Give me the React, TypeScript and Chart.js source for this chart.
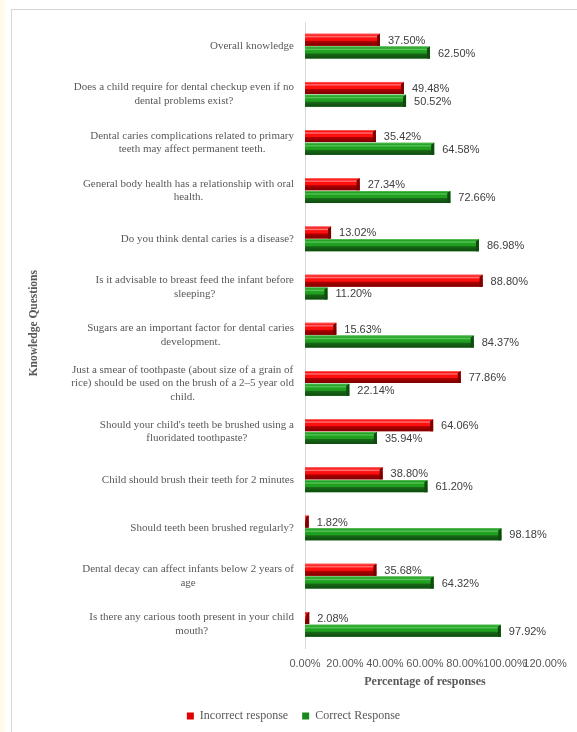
import React, { useEffect, useRef } from "react";
import { Chart, registerables } from "chart.js";

Chart.register(...registerables);

const categories: string[][] = [
  ["Overall knowledge"],
  ["Does a child require for dental checkup even if no", "dental problems exist?"],
  ["Dental caries complications related to primary", "teeth may affect permanent teeth."],
  ["General body health has a relationship with oral", "health."],
  ["Do you think dental caries is a disease?"],
  ["Is it advisable to breast feed the infant before", "sleeping?"],
  ["Sugars are an important factor for dental caries", "development."],
  ["Just a smear of toothpaste (about size of a grain of", "rice) should be used on the brush of a 2\u20135 year old", "child."],
  ["Should your child's teeth be brushed using a", "fluoridated toothpaste?"],
  ["Child should brush their teeth for 2 minutes"],
  ["Should teeth been brushed regularly?"],
  ["Dental decay can affect infants below 2 years of", "age"],
  ["Is there any carious tooth present in your child", "mouth?"],
];

const incorrect: number[] = [37.5, 49.48, 35.42, 27.34, 13.02, 88.8, 15.63, 77.86, 64.06, 38.8, 1.82, 35.68, 2.08];
const correct: number[] = [62.5, 50.52, 64.58, 72.66, 86.98, 11.2, 84.37, 22.14, 35.94, 61.2, 98.18, 64.32, 97.92];

const seriesNames = ["Incorrect response", "Correct Response"];
const xMin = 0;
const xMax = 120;
const xStep = 20;
const yTitle = "Knowledge Questions";

const SERIF = "'Liberation Serif', 'Times New Roman', serif";
const SANS = "'Liberation Sans', Arial, sans-serif";
const TEXT = "#595959";

const palettes = [
  { light: "#ff7a7a", main: "#ff1010", dark: "#b00000", darker: "#7a0000" },
  { light: "#5cc45c", main: "#1fa01f", dark: "#176817", darker: "#0f4a0f" },
];

const bevelPlugin = {
  id: "bevel",
  afterDatasetsDraw(chart: any) {
    const ctx = chart.ctx as CanvasRenderingContext2D;
    chart.data.datasets.forEach((_ds: any, di: number) => {
      const meta = chart.getDatasetMeta(di);
      if (meta.hidden) return;
      const p = palettes[di];
      meta.data.forEach((el: any) => {
        const { x, y, base, height } = el.getProps(["x", "y", "base", "height"], true);
        const top = y - height / 2;
        const left = Math.min(base, x);
        const w = Math.abs(x - base);
        if (w <= 0) return;
        ctx.save();
        const g = ctx.createLinearGradient(0, top, 0, top + height);
        g.addColorStop(0, p.light);
        g.addColorStop(0.12, p.main);
        g.addColorStop(0.25, p.light);
        g.addColorStop(0.35, p.main);
        g.addColorStop(0.55, p.main);
        g.addColorStop(0.62, p.dark);
        g.addColorStop(1, p.darker);
        ctx.fillStyle = g;
        ctx.fillRect(left, top, w, height);
        const bw = Math.min(3, w);
        ctx.fillStyle = p.darker;
        ctx.beginPath();
        ctx.moveTo(left + w - bw, top + 2);
        ctx.lineTo(left + w, top);
        ctx.lineTo(left + w, top + height);
        ctx.lineTo(left + w - bw, top + height);
        ctx.closePath();
        ctx.fill();
        ctx.restore();
      });
    });
  },
};

const labelsPlugin = {
  id: "valueLabels",
  afterDatasetsDraw(chart: any) {
    const ctx = chart.ctx as CanvasRenderingContext2D;
    ctx.save();
    ctx.font = `11px ${SANS}`;
    ctx.fillStyle = "#404040";
    ctx.textAlign = "left";
    ctx.textBaseline = "middle";
    chart.data.datasets.forEach((ds: any, di: number) => {
      const meta = chart.getDatasetMeta(di);
      meta.data.forEach((el: any, i: number) => {
        const { x, y } = el.getProps(["x", "y"], true);
        ctx.fillText(`${Number(ds.data[i]).toFixed(2)}%`, x + 8, y + 1);
      });
    });
    ctx.restore();
  },
};

const catLabelsPlugin = {
  id: "catLabels",
  afterLayout(chart: any) {
    if (chart.legend) {
      chart.legend.left += 12;
      chart.legend.right += 12;
    }
  },
  afterDraw(chart: any) {
    const ctx = chart.ctx as CanvasRenderingContext2D;
    const yScale = chart.scales.y;
    const area = chart.chartArea;
    const right = area.left - 11;
    const lh = 13.5;
    ctx.save();
    ctx.font = `11px ${SERIF}`;
    ctx.fillStyle = TEXT;
    ctx.textAlign = "center";
    ctx.textBaseline = "middle";
    categories.forEach((lines, i) => {
      const cy = yScale.getPixelForValue(i);
      const maxW = Math.max(...lines.map((l) => ctx.measureText(l).width));
      const cx = right - maxW / 2;
      const y0 = cy - ((lines.length - 1) * lh) / 2;
      lines.forEach((l, k) => ctx.fillText(l, cx, y0 + k * lh));
    });
    ctx.font = `bold 11.5px ${SERIF}`;
    ctx.translate(yScale.left + 16, (area.top + area.bottom) / 2 - 12);
    ctx.rotate(-Math.PI / 2);
    ctx.fillText(yTitle, 0, 0);
    ctx.restore();
  },
};

export default function App() {
  const ref = useRef<HTMLCanvasElement | null>(null);

  useEffect(() => {
    if (!ref.current) return;
    const chart = new Chart(ref.current, {
      type: "bar",
      data: {
        labels: categories,
        datasets: [
          { label: seriesNames[0], data: incorrect, backgroundColor: "#e00000", borderWidth: 0 },
          { label: seriesNames[1], data: correct, backgroundColor: "#1a8a1a", borderWidth: 0 },
        ],
      },
      options: {
        indexAxis: "y",
        animation: false,
        responsive: false,
        maintainAspectRatio: false,
        layout: { padding: { top: 22, left: 18, right: 32, bottom: 0 } },
        datasets: { bar: { categoryPercentage: 0.53, barPercentage: 0.94 } },
        scales: {
          x: {
            min: xMin,
            max: xMax,
            grid: { display: false },
            border: { display: false },
            ticks: {
              stepSize: xStep,
              autoSkip: false,
              maxRotation: 0,
              minRotation: 0,
              color: TEXT,
              font: { family: SANS, size: 11 },
              padding: 1,
              callback: (v: any) => `${Number(v).toFixed(2)}%`,
            },
            title: {
              display: true,
              text: "Percentage of responses",
              color: TEXT,
              font: { family: SERIF, size: 12, weight: "bold" },
              padding: { top: 3, bottom: 7 },
            },
            afterFit: (scale: any) => {
              scale.paddingLeft = 0;
              scale.paddingRight = 0;
            },
          },
          y: {
            grid: { display: false },
            border: { display: true, color: "#d9d9d9", width: 1 },
            ticks: { display: false },
            title: { display: false },
            afterFit: (scale: any) => {
              scale.width = 287;
            },
          },
        },
        plugins: {
          legend: {
            position: "bottom",
            labels: {
              color: TEXT,
              font: { family: SERIF, size: 12 },
              boxWidth: 7,
              boxHeight: 7,
              padding: 14,
            },
          },
          tooltip: { enabled: false },
        },
      },
      plugins: [bevelPlugin, labelsPlugin, catLabelsPlugin],
    });
    return () => chart.destroy();
  }, []);

  return (
    <div style={{ position: "fixed", left: 0, top: 0, width: 577, height: 732, background: "#ffffff", overflow: "hidden" }}>
      <div style={{ position: "absolute", left: 0, top: 0, width: 5, height: 732, background: "#fffbe8" }} />
      <div
        style={{
          position: "absolute",
          left: 11,
          top: 9,
          width: 620,
          height: 760,
          borderLeft: "1px solid #d6d6d6",
          borderTop: "1px solid #d6d6d6",
        }}
      />
      <canvas ref={ref} width={577} height={732} style={{ position: "absolute", left: 0, top: 0, width: 577, height: 732 }} />
    </div>
  );
}
